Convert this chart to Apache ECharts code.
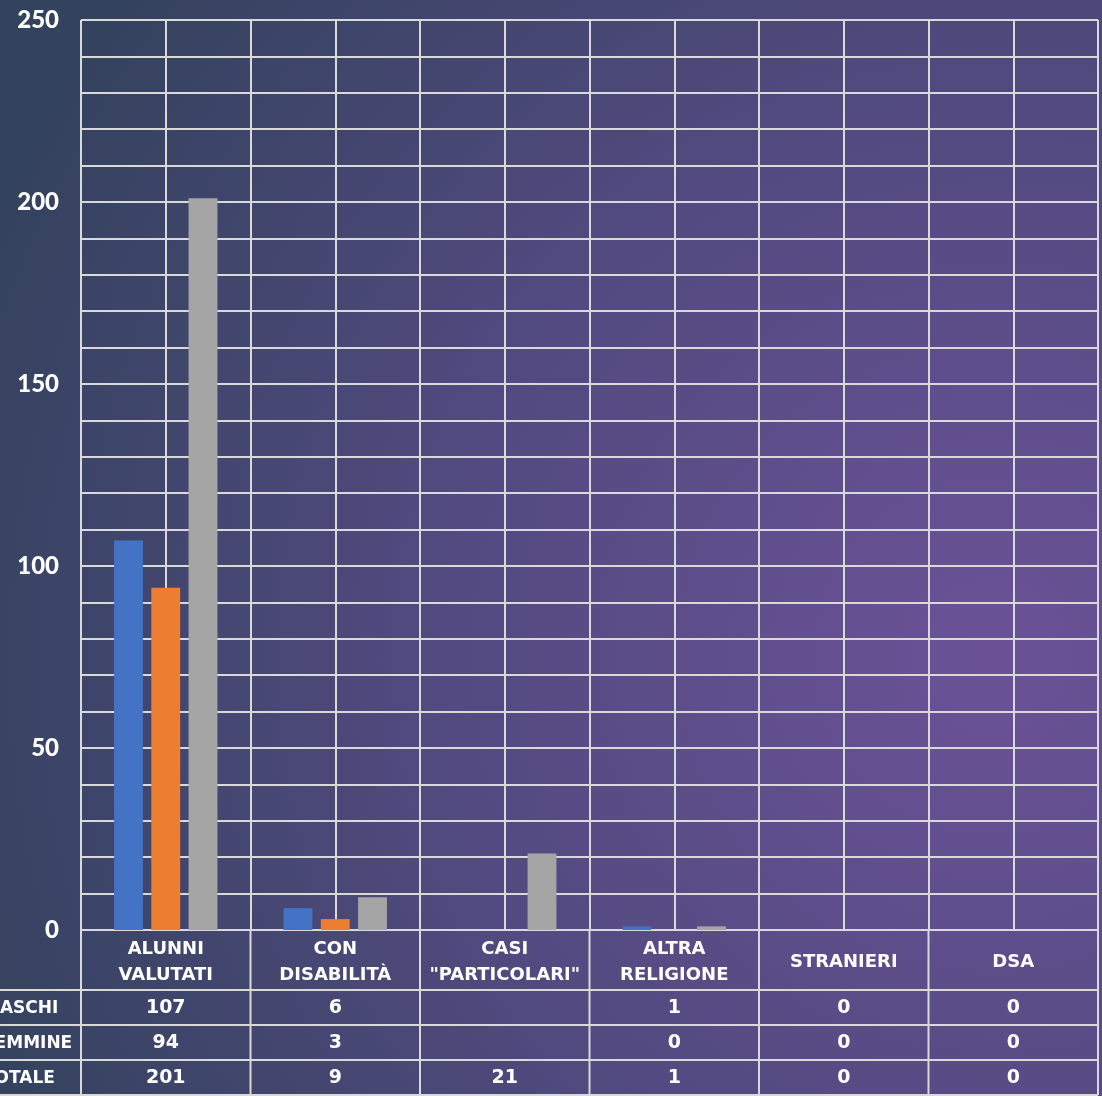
<!DOCTYPE html>
<html>
<head>
<meta charset="utf-8">
<script src="https://cdn.jsdelivr.net/npm/echarts@6/dist/echarts.min.js"></script>
<style>
html,body{margin:0;padding:0;background:#3a4a6c;}
#c{width:1102px;height:1096px;}
</style>
</head>
<body>
<div id="c"></div>
<script>
const categories = ['ALUNNI\nVALUTATI', 'CON\nDISABILITÀ', 'CASI\n"PARTICOLARI"', 'ALTRA\nRELIGIONE', 'STRANIERI', 'DSA'];
const seriesNames = ['MASCHI', 'FEMMINE', 'TOTALE'];
const maschi = [107, 6, null, 1, 0, 0];
const femmine = [94, 3, null, 0, 0, 0];
const totale = [201, 9, 21, 1, 0, 0];
const yTicks = [0, 50, 100, 150, 200, 250];
const colors = ['#4472C4', '#ED7D31', '#A5A5A5'];

const seriesData = [maschi, femmine, totale];
const gridColor = '#d9d9d9';
const font = '"DejaVu Sans", sans-serif';

const chart = echarts.init(document.getElementById('c'), null, { renderer: 'canvas' });

const option = {
  backgroundColor: {
    type: 'radial', x: 0.9, y: 0.6, r: 1.0,
    colorStops: [
      { offset: 0, color: '#6b5297' },
      { offset: 0.5, color: '#524a80' },
      { offset: 1, color: '#33425d' }
    ]
  },
  animation: false,
  grid: { left: 81, right: 4, top: 20, bottom: 166, containLabel: false },
  xAxis: [
    {
      type: 'category',
      data: categories,
      axisLine: { show: false },
      axisTick: { show: false },
      splitLine: { show: false },
      axisLabel: {
        color: '#ffffff', fontFamily: font, fontWeight: 'bold', fontSize: 18,
        lineHeight: 26, verticalAlign: 'middle', margin: 32, interval: 0
      }
    },
    {
      type: 'value', min: 0, max: categories.length, interval: 0.5,
      position: 'bottom',
      axisLine: { show: false }, axisTick: { show: false }, axisLabel: { show: false },
      splitLine: { show: true, lineStyle: { color: gridColor, width: 2 } }
    }
  ],
  yAxis: {
    type: 'value', min: yTicks[0], max: yTicks[yTicks.length - 1], interval: yTicks[1] - yTicks[0],
    axisLine: { show: false }, axisTick: { show: false },
    axisLabel: { color: '#ffffff', fontFamily: 'Lato, sans-serif', fontWeight: 900, fontSize: 24, margin: 22 },
    splitLine: { show: true, lineStyle: { color: gridColor, width: 2 } },
    minorTick: { show: false, splitNumber: 5 },
    minorSplitLine: { show: true, lineStyle: { color: gridColor, width: 2 } }
  },
  series: seriesNames.map((name, i) => ({
    name: name,
    type: 'bar',
    xAxisIndex: 0,
    data: seriesData[i],
    barGap: '29%',
    barCategoryGap: '39%',
    itemStyle: { color: colors[i] },
    z: 3
  }))
};
chart.setOption(option);

function buildTable() {
  const y0 = chart.convertToPixel({ yAxisIndex: 0 }, 0);
  const xs = [];
  for (let i = 0; i <= categories.length; i++) xs.push(chart.convertToPixel({ xAxisIndex: 1 }, i));
  const headerH = 60, rowH = 35;
  const g = [];
  const ls = { stroke: gridColor, lineWidth: 2 };
  const bottom = y0 + headerH + rowH * seriesNames.length;
  for (let r = 0; r <= seriesNames.length; r++) {
    const y = y0 + headerH + r * rowH;
    g.push({ type: 'line', shape: { x1: 0, y1: y, x2: xs[xs.length - 1], y2: y }, style: ls, z: 10 });
  }
  xs.forEach(x => {
    g.push({ type: 'line', shape: { x1: x, y1: y0, x2: x, y2: bottom }, style: ls, z: 10 });
  });
  seriesNames.forEach((name, r) => {
    const yc = y0 + headerH + r * rowH + rowH / 2 + 1;
    g.push({
      type: 'text', x: -17, y: yc, z: 11,
      style: { text: name, fill: '#ffffff', font: 'bold 17px ' + font, textAlign: 'left', textVerticalAlign: 'middle' }
    });
    seriesData[r].forEach((v, c) => {
      if (v === null || v === undefined) return;
      const xc = (xs[c] + xs[c + 1]) / 2;
      g.push({
        type: 'text', x: xc, y: yc, z: 11,
        style: { text: String(v), fill: '#ffffff', font: 'bold 19px ' + font, textAlign: 'center', textVerticalAlign: 'middle' }
      });
    });
  });
  chart.setOption({ graphic: g });
}
buildTable();
</script>
</body>
</html>
